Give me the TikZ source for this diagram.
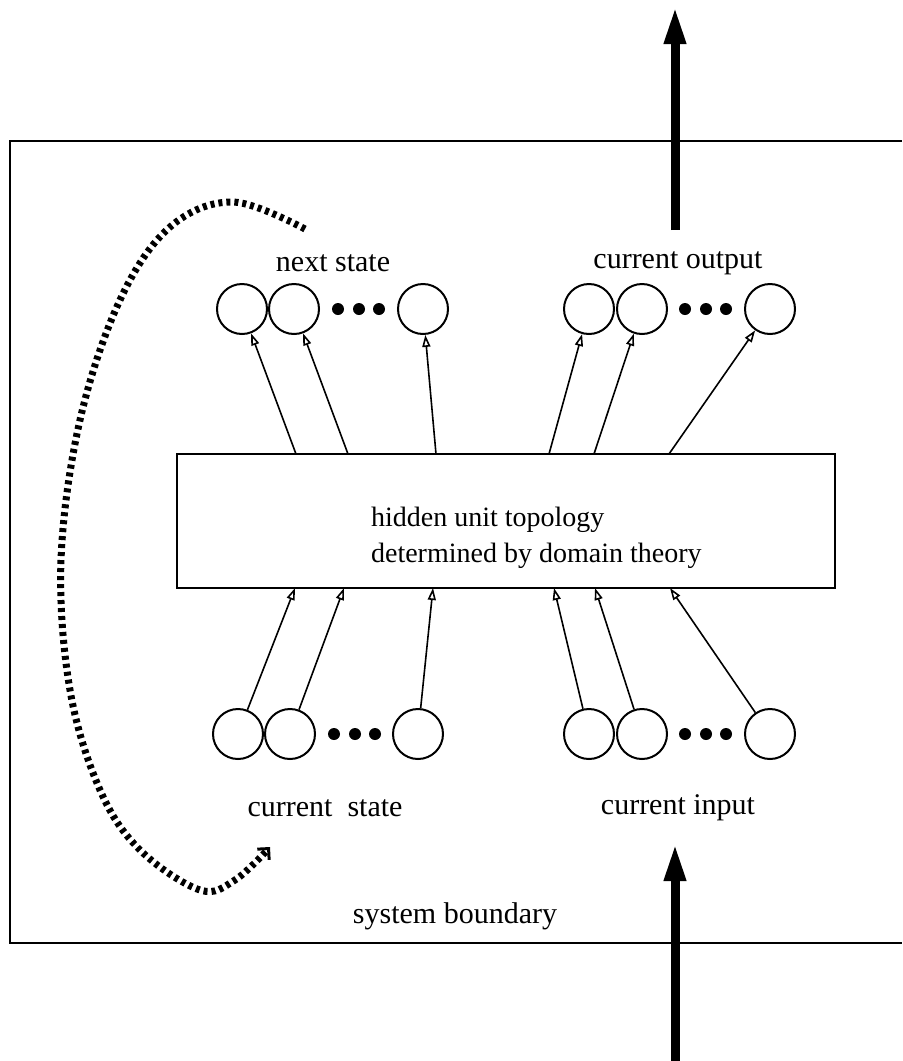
\documentclass[tikz,border=0pt]{standalone}
\usepackage{fontspec}
\setmainfont{Liberation Serif}
\usetikzlibrary{arrows.meta}

\begin{document}
\begin{tikzpicture}[x=0.5pt,y=-0.5pt,
    unit/.style={circle,draw,line width=1pt,minimum size=25pt,inner sep=0pt},
    dot/.style={circle,fill,minimum size=6pt,inner sep=0pt},
    link/.style={line width=0.8pt,-{Triangle[open,length=6pt,width=4pt]}},
    bigarrow/.style={line width=4.5pt,-{Triangle[length=19pt,width=10pt]}},
    lbl/.style={font=\fontsize{15}{18}\selectfont}]
    \useasboundingbox (0,0) rectangle (902,1061);
    % system boundary, open on the right
    \draw[line width=1pt] (902,141) -- (10,141) -- (10,943) -- (902,943);
    \node[lbl] (sysb) at (455,916) {system boundary};
    % hidden layer
    \node[draw,line width=1pt,minimum width=329pt,minimum height=67pt] (hidden) at (506,521) {};
    \node[font=\fontsize{14}{18}\selectfont,align=left,anchor=west] (hiddentext) at (364,538)
        {hidden unit topology\\determined by domain theory};
    % output side
    \node[lbl] (nslabel) at (333,263) {next state};
    \node[lbl] (colabel) at (678,263) {current output};
    \node[unit] (ns1) at (242,309) {};
    \node[unit] (ns2) at (294,309) {};
    \node[unit] (ns3) at (423,309) {};
    \node[dot] at (338,309) {};
    \node[dot] at (359,309) {};
    \node[dot] at (379,309) {};
    \node[unit] (co1) at (589,309) {};
    \node[unit] (co2) at (642,309) {};
    \node[unit] (co3) at (770,309) {};
    \node[dot] at (685,309) {};
    \node[dot] at (706,309) {};
    \node[dot] at (726,309) {};
    % input side
    \node[lbl] (cslabel) at (325,808) {current\ \ state};
    \node[lbl] (cilabel) at (678,808) {current input};
    \node[unit] (cs1) at (238,734) {};
    \node[unit] (cs2) at (290,734) {};
    \node[unit] (cs3) at (418,734) {};
    \node[dot] at (334,734) {};
    \node[dot] at (355,734) {};
    \node[dot] at (375,734) {};
    \node[unit] (ci1) at (589,734) {};
    \node[unit] (ci2) at (642,734) {};
    \node[unit] (ci3) at (770,734) {};
    \node[dot] at (685,734) {};
    \node[dot] at (706,734) {};
    \node[dot] at (726,734) {};
    % points on the box edges
    \coordinate (t1) at (296,454);
    \coordinate (t2) at (348,454);
    \coordinate (t3) at (436,454);
    \coordinate (t4) at (549,454);
    \coordinate (t5) at (594,454);
    \coordinate (t6) at (669,454);
    \coordinate (b1) at (295,588);
    \coordinate (b2) at (344,588);
    \coordinate (b3) at (433,588);
    \coordinate (b4) at (554,588);
    \coordinate (b5) at (595,588);
    \coordinate (b6) at (670,588);
    \draw[link] (t1) -- (ns1);
    \draw[link] (t2) -- (ns2);
    \draw[link] (t3) -- (ns3);
    \draw[link] (t4) -- (co1);
    \draw[link] (t5) -- (co2);
    \draw[link] (t6) -- (co3);
    \draw[link] (cs1) -- (b1);
    \draw[link] (cs2) -- (b2);
    \draw[link] (cs3) -- (b3);
    \draw[link] (ci1) -- (b4);
    \draw[link] (ci2) -- (b5);
    \draw[link] (ci3) -- (b6);
    % flow in and out of the system
    \coordinate (infrom) at (675,1061);
    \coordinate (into) at (675,843);
    \coordinate (outfrom) at (675,230);
    \coordinate (outto) at (675,6);
    \draw[bigarrow] (infrom) -- (into);
    \draw[bigarrow] (outfrom) -- (outto);
    % feedback from next state to current state
    \draw[line width=3.5pt,dash pattern=on 2pt off 2pt,-{Straight Barb[length=4pt,width=8pt,line width=1.5pt]}]
        plot[smooth,tension=0.6] coordinates {(305,229) (233,202) (170,227) (120,300) (80,420) (61,560) (70,690) (100,790) (140,850) (200,890) (235,880) (270,847)};
\end{tikzpicture}
\end{document}
